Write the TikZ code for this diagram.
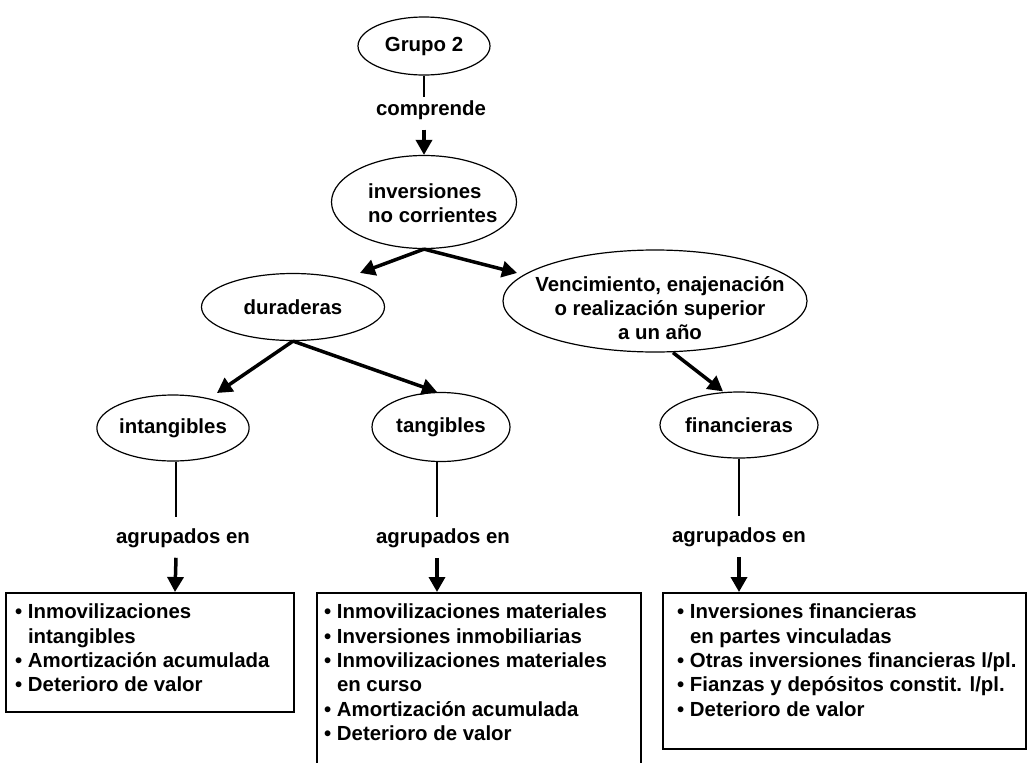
\documentclass[tikz,border=0pt]{standalone}
\usepackage{fontspec}
\setmainfont{Liberation Sans}
\usetikzlibrary{shapes.geometric,arrows.meta,calc}
\newcommand{\bul}{\textbullet\ }
\newcommand{\ind}{\phantom{\textbullet\ }}
\begin{document}
\begin{tikzpicture}[x=1pt,y=-1pt,
  every node/.style={font=\fontsize{20.4}{24.3}\selectfont\bfseries, inner sep=0pt},
  ell/.style={draw, ellipse, line width=1.2pt},
  thin/.style={line width=1.2pt},
  arr/.style={line width=3.5pt, -{Triangle[length=15pt,width=16pt]}},
  box/.style={draw, rectangle, line width=1.5pt, anchor=north west},
  lst/.style={anchor=north west, align=left}]
\useasboundingbox (0,0) rectangle (1031,763);
\clip (0,0) rectangle (1031,763);
\node[ell, minimum width=132pt, minimum height=58pt] (g) at (424,46) {Grupo 2};
\node (comp) at (431,110) {comprende};
\node[ell, minimum width=185pt, minimum height=93pt] (inv) at (424,202) {};
\node[align=left, anchor=west] (invt) at (368,203) {inversiones\\no corrientes};
\node[ell, minimum width=183pt, minimum height=67pt] (dur) at (293,307) {duraderas};
\node[ell, minimum width=304pt, minimum height=102pt] (ven) at (655,301) {};
\node[align=center] (vent) at (660,308) {Vencimiento, enajenación\\o realización superior\\a un año};
\node[ell, minimum width=145pt, minimum height=66pt] (intg) at (173,428) {intangibles};
\node[ell, minimum width=138pt, minimum height=69pt] (tang) at (441,427) {tangibles};
\node[ell, minimum width=158pt, minimum height=66pt] (fin) at (739,425) {financieras};
\node (lblL) at (183,538) {agrupados en};
\node (lblM) at (443,538) {agrupados en};
\node (lblR) at (739,537) {agrupados en};
\node[box, minimum width=288pt, minimum height=119pt] (boxL) at (5,592) {};
\node[box, minimum width=324pt, minimum height=190pt] (boxM) at (316,592) {};
\node[box, minimum width=363pt, minimum height=156pt] (boxR) at (662,592) {};
\node[lst] (txtL) at (15,604) {\bul Inmovilizaciones\\\ind intangibles\\\bul Amortización acumulada\\\bul Deterioro de valor};
\node[lst] (txtM) at (324,604) {\bul Inmovilizaciones materiales\\\bul Inversiones inmobiliarias\\\bul Inmovilizaciones materiales\\\ind en curso\\\bul Amortización acumulada\\\bul Deterioro de valor};
\node[lst] (txtR) at (677,604) {\bul Inversiones financieras\\\ind en partes vinculadas\\\bul Otras inversiones financieras l/pl.\\\bul Fianzas y depósitos constit. l/pl.\\\bul Deterioro de valor};
% connectors
\draw[thin] (g.south) -- ($(comp.north)+(-7,-3)$);
\draw[arr] ($(comp.south)+(-7,10)$) -- (inv.north);
\draw[arr] (inv.south) -- ($(dur.north)+(67,0)$);
\draw[arr] (inv.south) -- ($(ven.center)+(-138,-28)$);
\draw[arr] (dur.south) -- ($(intg.center)+(44,-35)$);
\draw[arr] (dur.south) -- ($(tang.north)+(-4,0)$);
\draw[arr] ($(ven.south)+(18,0)$) -- ($(fin.north)+(-16,0)$);
\draw[thin] ($(intg.south)+(3,0)$) -- ($(lblL.north)+(-7,-11)$);
\draw[arr] ($(lblL.south)+(-7,10)$) -- ($(boxL.north west)+(170,0)$);
\draw[thin] ($(tang.south)+(-4,0)$) -- ($(lblM.north)+(-6,-11)$);
\draw[arr] ($(lblM.south)+(-6,10)$) -- ($(boxM.north west)+(121,0)$);
\draw[thin] (fin.south) -- ($(lblR.north)+(0,-11)$);
\draw[arr] ($(lblR.south)+(0,10)$) -- ($(boxR.north west)+(77,0)$);
\end{tikzpicture}
\end{document}
